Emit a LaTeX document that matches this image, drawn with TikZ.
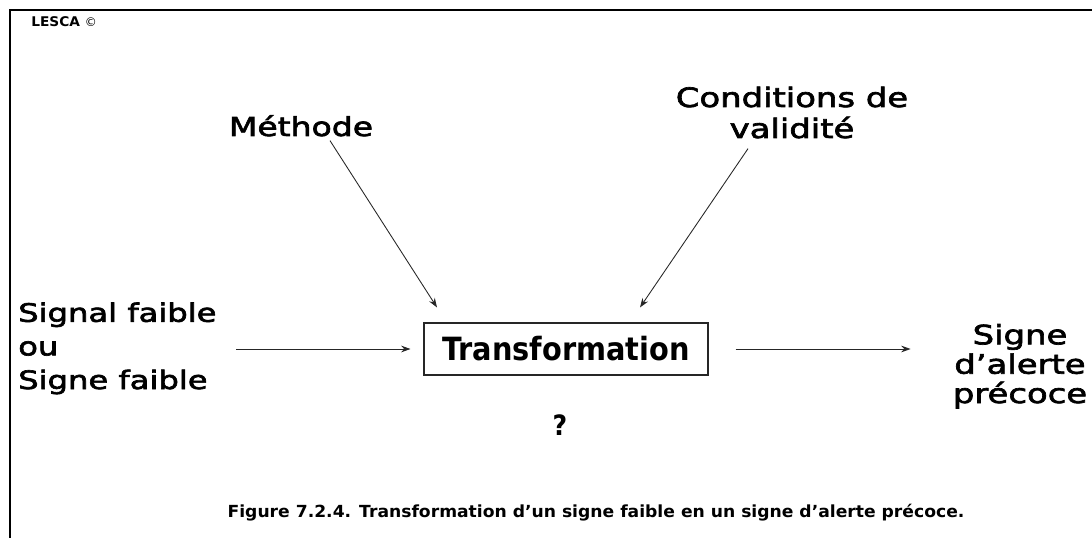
\documentclass[tikz,border=0pt]{standalone}
\usepackage{fontspec}
\setmainfont{DejaVu Sans Condensed}
\newfontfamily\lblfont{DejaVu Sans}[FakeStretch=1.27,FakeBold=2.5]
\newfontfamily\capfont{DejaVu Sans Bold}[FakeStretch=1.03]
\newfontfamily\transfont{DejaVu Sans Condensed Bold}
\newfontfamily\plainfont{DejaVu Sans}
\usetikzlibrary{calc,arrows.meta}
\begin{document}
\begin{tikzpicture}[x=0.75pt,y=-0.75pt,
  lbl/.style={inner sep=0pt},
  arr/.style={draw=black!85,line width=0.65pt,-{Stealth[length=7pt,width=5pt]}},
  framebox/.style={draw=black!85,line width=0.8pt,minimum width=213pt,minimum height=39pt,inner sep=0pt}]
\useasboundingbox (0,0) rectangle (1092,538);
\fill[white] (0,0) rectangle (1092,538);
\draw[line width=1.6pt] (10,538) -- (10,10) -- (1092,10);
\node[inner sep=0pt,anchor=base west,font=\capfont\fontsize{10}{12}\selectfont] (lesca) at (31,27) {LESCA {\plainfont\fontsize{9}{12}\selectfont\textcopyright}};
\node[lbl,anchor=base,font=\lblfont\fontsize{19.5}{24}\selectfont] (methode) at (301,136) {Méthode};
\node[lbl,align=center,anchor=base,font=\lblfont\fontsize{20}{23.25}\selectfont] (cond) at (792,138) {Conditions de\\validité};
\node[framebox,font=\transfont\fontsize{24}{28}\selectfont] (trans) at (566,349) {Transformation};
\node[lbl,align=left,anchor=base west,font=\lblfont\fontsize{19}{25.2}\selectfont] (left) at (18,389) {Signal faible\\ou\\Signe faible};
\node[lbl,align=center,anchor=base,font=\lblfont\fontsize{20}{22}\selectfont] (right) at (1020,403) {Signe\\d’alerte\\précoce};
\node[inner sep=0pt,font=\transfont\fontsize{21}{24}\selectfont] (q) at (560,425) {?};
\node[inner sep=0pt,anchor=base,font=\capfont\fontsize{12.5}{15}\selectfont] (cap) at (596,517) {Figure 7.2.4. Transformation d’un signe faible en un signe d’alerte précoce.};
\draw[arr] ($(methode.south)+(29,4)$) -- ($(trans.north)+(-129,-15)$);
\draw[arr] ($(cond.south)+(-44,10)$) -- ($(trans.north)+(74,-15)$);
\draw[arr] ($(trans.west)+(-187,0)$) -- ($(trans.west)+(-13,0)$);
\draw[arr] ($(trans.east)+(27,0)$) -- ($(trans.east)+(202,0)$);
\end{tikzpicture}
\end{document}
